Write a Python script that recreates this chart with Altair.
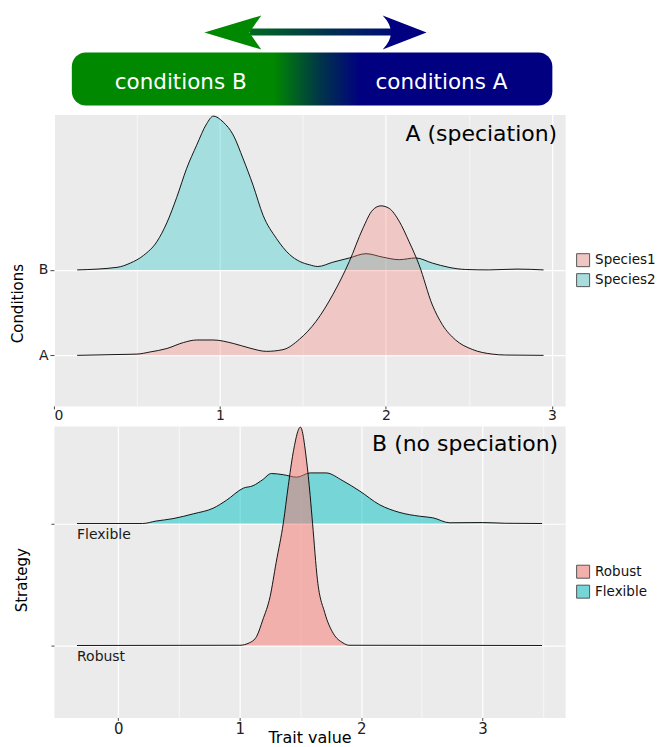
import altair as alt
import pandas as pd

# ---------------- data ----------------
# Panel A (speciation): ridge "B" = Species2, ridge "A" = Species1
sp2_x = [0.14, 0.38, 0.46, 0.54, 0.62, 0.68, 0.74, 0.80, 0.86, 0.92, 0.96, 1.02, 1.08, 1.14,
         1.20, 1.26, 1.34, 1.42, 1.48, 1.54, 1.59, 1.68, 1.78, 1.88, 1.98, 2.08, 2.18, 2.28,
         2.38, 2.48, 2.62, 2.79, 2.95]
sp2_d = [0.0, 0.03, 0.08, 0.17, 0.33, 0.55, 0.85, 1.19, 1.46, 1.71, 1.80, 1.73, 1.58, 1.30,
         0.99, 0.64, 0.37, 0.18, 0.10, 0.06, 0.04, 0.09, 0.14, 0.19, 0.15, 0.12, 0.14, 0.08,
         0.03, 0.005, 0.0, 0.01, 0.0]

sp1_x = [0.14, 0.38, 0.50, 0.58, 0.68, 0.78, 0.86, 0.96, 1.08, 1.18, 1.28, 1.38, 1.48, 1.58,
         1.68, 1.78, 1.86, 1.92, 1.97, 2.02, 2.08, 2.14, 2.20, 2.28, 2.34, 2.42, 2.52, 2.64,
         2.72, 2.95]
sp1_d = [0.0, 0.01, 0.015, 0.04, 0.08, 0.15, 0.18, 0.18, 0.14, 0.085, 0.047, 0.067, 0.19, 0.40,
         0.71, 1.10, 1.48, 1.70, 1.75, 1.72, 1.57, 1.33, 1.06, 0.59, 0.36, 0.18, 0.07, 0.015,
         0.004, 0.0]

conditions = ["A", "B"]          # baselines 1 and 2
speciesA = ["Species1", "Species2"]

# Panel B (no speciation)
flex_x = [-0.34, 0.20, 0.31, 0.45, 0.62, 0.78, 0.89, 1.03, 1.11, 1.19, 1.26, 1.36, 1.47, 1.58,
          1.71, 1.85, 1.99, 2.15, 2.32, 2.48, 2.59, 2.73, 3.00, 3.19, 3.49]
flex_d = [0.0, 0.0, 0.02, 0.04, 0.08, 0.125, 0.19, 0.29, 0.31, 0.36, 0.41, 0.40, 0.38, 0.415,
          0.415, 0.35, 0.265, 0.155, 0.09, 0.06, 0.047, 0.006, 0.008, 0.002, 0.0]

rob_x = [-0.34, 1.00, 1.08, 1.14, 1.19, 1.25, 1.30, 1.36, 1.40, 1.44, 1.50, 1.55, 1.58, 1.60,
         1.64, 1.70, 1.77, 1.85, 1.90, 3.49]
rob_d = [0.0, 0.002, 0.022, 0.076, 0.21, 0.40, 0.68, 1.01, 1.31, 1.58, 1.79, 1.52, 1.23, 1.00,
         0.54, 0.27, 0.10, 0.022, 0.002, 0.0]

strategies = ["Robust", "Flexible"]   # baselines 1 and 2

x_ticks_A = [0, 0.5, 1, 1.5, 2, 2.5, 3]
x_ticks_B = [0, 0.5, 1, 1.5, 2, 2.5, 3, 3.5]

banner_labels = ["conditions B", "conditions A"]

# ---------------- styling ----------------
FONT = "DejaVu Sans"
W, H = 512, 292
PINK, TEAL = "#F8766D", "#00BFC4"


def ridge_df(xs, ds, base, name):
    return pd.DataFrame({"x": xs, "top": [base + d for d in ds],
                         "base": [base] * len(xs), "group": [name] * len(xs)})


def flat_df(xs, base, name):
    # zero-height copy of a ridge, only used to carry the legend
    return pd.DataFrame({"x": [xs[0], xs[-1]], "top": [base, base],
                         "base": [base, base], "group": [name, name]})


half = "datum.value % 1 != 0"


def x_axis(values, title=None, label_size=15, pad=1):
    kw = dict(values=values, labelExpr="datum.value % 1 == 0 ? format(datum.value, 'd') : ''",
              grid=True, gridColor="white",
              gridWidth={"condition": {"test": half, "value": 0.6}, "value": 1.2},
              tickOpacity={"condition": {"test": half, "value": 0}, "value": 1},
              tickSize=3, labelPadding=pad, labelFontSize=label_size, domain=False)
    if title:
        kw.update(title=title, titleFontSize=16, titleY=25, titleBaseline="alphabetic")
    else:
        kw.update(title=None)
    return alt.Axis(**kw)


def legend():
    return alt.Legend(title=None, orient="none", legendX=523, legendY=139,
                      symbolType="square", symbolSize=169, symbolStrokeColor="#555",
                      symbolStrokeWidth=1, labelFontSize=13.5, rowPadding=2, padding=0,
                      labelOffset=5, labelFont=FONT, labelColor="#111")


def ridge_layers(df, xsc, ysc, xax, yax, fsc, op):
    area = alt.Chart(df).mark_area(interpolate="monotone", fillOpacity=op, strokeWidth=0).encode(
        x=alt.X("x:Q", scale=xsc, axis=xax),
        y=alt.Y("top:Q", scale=ysc, axis=yax),
        y2="base:Q",
        fill=alt.Fill("group:N", scale=fsc, legend=None),
    )
    line = alt.Chart(df).mark_line(interpolate="monotone", color="black", strokeWidth=0.9).encode(
        x=alt.X("x:Q", scale=xsc, axis=xax),
        y=alt.Y("top:Q", scale=ysc, axis=yax),
    )
    return [area, line]


def legend_layer(df, xsc, ysc, xax, yax, csc):
    return alt.Chart(df).mark_area(strokeWidth=0).encode(
        x=alt.X("x:Q", scale=xsc, axis=xax),
        y=alt.Y("top:Q", scale=ysc, axis=yax),
        y2="base:Q",
        color=alt.Color("group:N", scale=csc, legend=legend()),
    )


# ---------------- banner ----------------
bsc = alt.Scale(domain=[0, 1], nice=False, zero=False)
box_df = pd.DataFrame({"x1": [0.035], "x2": [0.975], "y1": [0.068], "y2": [0.583]})
shaft_df = pd.DataFrame({"x1": [0.383], "x2": [0.666], "y1": [0.748], "y2": [0.816]})
headL_df = pd.DataFrame({"x": [0.350], "y": [0.777]})
headR_df = pd.DataFrame({"x": [0.686], "y": [0.777]})
btext_df = pd.DataFrame({"x": [0.248, 0.758], "y": [0.223, 0.223], "t": banner_labels})

box_grad = alt.LinearGradient(
    gradient="linear", x1=0, x2=1, y1=0, y2=0,
    stops=[alt.GradientStop(color="#008800", offset=0),
           alt.GradientStop(color="#008800", offset=0.42),
           alt.GradientStop(color="#003a44", offset=0.51),
           alt.GradientStop(color="#000080", offset=0.60),
           alt.GradientStop(color="#000080", offset=1)])
shaft_grad = alt.LinearGradient(
    gradient="linear", x1=0, x2=1, y1=0, y2=0,
    stops=[alt.GradientStop(color="#006a22", offset=0),
           alt.GradientStop(color="#003050", offset=0.55),
           alt.GradientStop(color="#000a78", offset=1)])

box = alt.Chart(box_df).mark_rect(cornerRadius=14, fill=box_grad).encode(
    x=alt.X("x1:Q", scale=bsc, axis=None), x2="x2:Q",
    y=alt.Y("y1:Q", scale=bsc, axis=None), y2="y2:Q")
shaft = alt.Chart(shaft_df).mark_rect(fill=shaft_grad).encode(
    x=alt.X("x1:Q", scale=bsc, axis=None), x2="x2:Q",
    y=alt.Y("y1:Q", scale=bsc, axis=None), y2="y2:Q")
headL = alt.Chart(headL_df).mark_point(
    shape="M-1.676,0L1.676,-1L0.97,0L1.676,1Z", filled=True, size=1156, color="#008800",
    opacity=1, strokeWidth=0).encode(
    x=alt.X("x:Q", scale=bsc, axis=None), y=alt.Y("y:Q", scale=bsc, axis=None))
headR = alt.Chart(headR_df).mark_point(
    shape="M1.294,0L-1.294,-1Q-0.32,0,-1.294,1Z", filled=True, size=1156, color="#000080",
    opacity=1, strokeWidth=0).encode(
    x=alt.X("x:Q", scale=bsc, axis=None), y=alt.Y("y:Q", scale=bsc, axis=None))
btext = alt.Chart(btext_df).mark_text(color="white", fontSize=21.5, font=FONT,
                                      align="center", baseline="alphabetic").encode(
    x=alt.X("x:Q", scale=bsc, axis=None), y=alt.Y("y:Q", scale=bsc, axis=None), text="t:N")

banner = alt.layer(box, shaft, headL, headR, btext).properties(
    width=W, height=103, view=alt.ViewBackground(fill="white", stroke="transparent"))

# ---------------- panel A ----------------
xA = alt.Scale(domain=[0, 3.08], nice=False, zero=False)
yA = alt.Scale(domain=[0.408, 3.82], nice=False, zero=False)
fA = alt.Scale(domain=speciesA, range=[PINK, TEAL])
cA = alt.Scale(domain=speciesA, range=["#F0C6C3", "#A8DDDE"])
xaxA = x_axis(x_ticks_A, label_size=14, pad=0)
yaxA = alt.Axis(values=[1, 2], labelExpr="datum.value == 1 ? 'A' : 'B'",
                grid=True, gridColor="white", gridWidth=1.2, tickSize=4, labelPadding=2,
                labelFontSize=14, domain=False, title="Conditions", titleFontSize=15,
                titleAngle=270, titleX=-36, titleY=189, titleAlign="center",
                titleBaseline="middle")
dfA2 = ridge_df(sp2_x, sp2_d, 2, "Species2")
dfA1 = ridge_df(sp1_x, sp1_d, 1, "Species1")
legdfA = pd.concat([flat_df(sp1_x, 1, "Species1"), flat_df(sp2_x, 2, "Species2")])
titleA = alt.Chart(pd.DataFrame({"t": ["A (speciation)"]})).mark_text(
    fontSize=22, font=FONT, align="right", baseline="alphabetic", color="black").encode(
    x=alt.value(W - 8), y=alt.value(27), text="t:N")

panelA = alt.layer(
    legend_layer(legdfA, xA, yA, xaxA, yaxA, cA),
    *ridge_layers(dfA2, xA, yA, xaxA, yaxA, fA, 0.3),
    *ridge_layers(dfA1, xA, yA, xaxA, yaxA, fA, 0.3),
    titleA,
).properties(width=W, height=H)

# ---------------- panel B ----------------
xB = alt.Scale(domain=[-0.53, 3.68], nice=False, zero=False)
yB = alt.Scale(domain=[0.41, 2.80], nice=False, zero=False)
fB = alt.Scale(domain=strategies, range=[PINK, TEAL])
cB = alt.Scale(domain=strategies, range=["#F1B0AC", "#76D5D7"])
xaxB = x_axis(x_ticks_B, title="Trait value")
yaxB = alt.Axis(values=[1, 2], labels=False, grid=True, gridColor="white", gridWidth=1.2,
                tickSize=3, domain=False, title="Strategy", titleFontSize=15,
                titleAngle=270, titleX=-32, titleY=154, titleAlign="center",
                titleBaseline="middle")
dfBf = ridge_df(flex_x, flex_d, 2, "Flexible")
dfBr = ridge_df(rob_x, rob_d, 1, "Robust")
legdfB = pd.concat([flat_df(rob_x, 1, "Robust"), flat_df(flex_x, 2, "Flexible")])
lab_df = pd.DataFrame({"x": [-0.34, -0.34], "y": [2, 1], "t": ["Flexible", "Robust"]})
labelsB = alt.Chart(lab_df).mark_text(fontSize=14, font=FONT, align="left",
                                      baseline="alphabetic", dy=16, color="#1a1a1a").encode(
    x=alt.X("x:Q", scale=xB, axis=xaxB), y=alt.Y("y:Q", scale=yB, axis=yaxB), text="t:N")
titleB = alt.Chart(pd.DataFrame({"t": ["B (no speciation)"]})).mark_text(
    fontSize=22, font=FONT, align="right", baseline="alphabetic", color="black").encode(
    x=alt.value(W - 7), y=alt.value(25), text="t:N")

panelB = alt.layer(
    legend_layer(legdfB, xB, yB, xaxB, yaxB, cB),
    *ridge_layers(dfBf, xB, yB, xaxB, yaxB, fB, 0.5),
    *ridge_layers(dfBr, xB, yB, xaxB, yaxB, fB, 0.5),
    labelsB,
    titleB,
).properties(width=W, height=H)

chart = alt.vconcat(banner, panelA, panelB, spacing=0).resolve_scale(
    x="independent", y="independent", fill="independent", color="independent"
).resolve_legend(fill="independent", color="independent").properties(
    padding={"left": 2, "top": 0, "right": 0, "bottom": 0}
).configure(font=FONT).configure_view(
    fill="#EBEBEB", stroke="transparent"
).configure_axis(
    labelFont=FONT, titleFont=FONT, labelColor="#222", tickColor="#444",
    titleColor="black", titleFontWeight="normal"
)

chart.save("out.html", embed_options={"renderer": "svg", "actions": False})
